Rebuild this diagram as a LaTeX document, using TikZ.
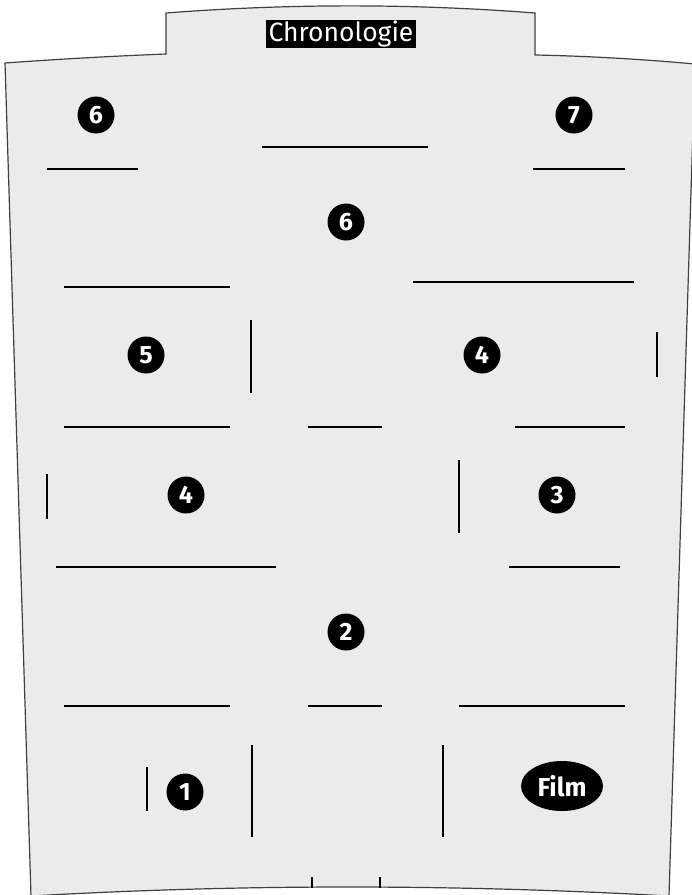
\documentclass[tikz,border=0pt]{standalone}
\usepackage{fontspec}
\setmainfont{Fira Sans}
\usetikzlibrary{shapes.geometric}
\tikzset{
  bar/.style={line width=2.7pt, black},
  num/.style={circle, fill=black, text=white, minimum size=37pt, inner sep=0pt,
    font=\bfseries\fontsize{25}{25}\selectfont},
  outline/.style={fill=black!8, draw=black!75, line width=1.2pt},
}
\begin{document}
\begin{tikzpicture}[x=1pt,y=-1pt]
\useasboundingbox (0,0) rectangle (692,895);
\begin{scope}
\clip (0,0) rectangle (692,895);
\path[outline] (5,63) .. controls (60,59) and (115,56) .. (166,54)
  -- (166,13) .. controls (289,3.5) and (412,3.5) .. (535,13)
  -- (535,55) .. controls (586,56) and (640,59) .. (695,64)
  -- (669,896) .. controls (455,884) and (240,884) .. (31,896) -- cycle;
\end{scope}
% title
\node[fill=black, text=white, inner xsep=3pt, inner ysep=0.5pt,
  font=\fontsize{26.5}{26.5}\selectfont] (title) at (341,34) {Chronologie};
% numbered circles
\node[num] (n6a) at (96,115) {6};
\node[num] (n7) at (574,115) {7};
\node[num] (n6b) at (346,222) {6};
\node[num] (n5) at (146,355) {5};
\node[num] (n4a) at (482,355) {4};
\node[num] (n4b) at (186,495) {4};
\node[num] (n3) at (557,495) {3};
\node[num] (n2) at (346,632) {2};
\node[num] (n1) at (185,792) {1};
\node[ellipse, fill=black, text=white, minimum width=82pt, minimum height=50pt,
  inner sep=0pt, font=\bfseries\fontsize{26}{26}\selectfont] (film) at (562,786) {Film};
% horizontal bars
\draw[bar] (47,169) -- (138,169);
\draw[bar] (262,147) -- (428,147);
\draw[bar] (533,169) -- (625,169);
\draw[bar] (64,287) -- (230,287);
\draw[bar] (413,282) -- (634,282);
\draw[bar] (64,427) -- (230,427);
\draw[bar] (308,427) -- (382,427);
\draw[bar] (515,427) -- (625,427);
\draw[bar] (56,567) -- (276,567);
\draw[bar] (509,567) -- (620,567);
\draw[bar] (64,706) -- (230,706);
\draw[bar] (308,706) -- (382,706);
\draw[bar] (459,706) -- (625,706);
% vertical bars
\draw[bar] (251,320) -- (251,393);
\draw[bar] (657,332) -- (657,377);
\draw[bar] (47,474) -- (47,519);
\draw[bar] (459,460) -- (459,533);
\draw[bar] (147,767) -- (147,811);
\draw[bar] (252,745) -- (252,837);
\draw[bar] (443,745) -- (443,837);
\draw[bar] (312,877) -- (312,887.5);
\draw[bar] (380,877) -- (380,887.5);
\end{tikzpicture}
\end{document}
